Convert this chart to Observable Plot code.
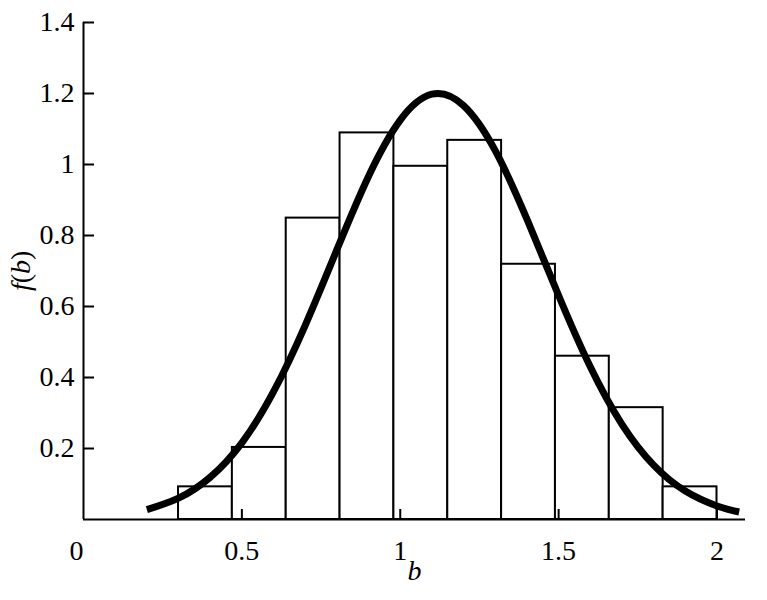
<!DOCTYPE html>
<html>
<head>
<meta charset="utf-8">
<script src="https://cdn.jsdelivr.net/npm/d3@7"></script>
<script src="https://cdn.jsdelivr.net/npm/@observablehq/plot@0.6"></script>
<style>
  html, body { margin: 0; padding: 0; background: #fff; }
  #chart { width: 767px; height: 600px; }
</style>
</head>
<body>
<div id="chart"></div>
<script>
// Histogram bins (edges) and heights
const binEdges = [0.30, 0.47, 0.64, 0.81, 0.98, 1.15, 1.32, 1.49, 1.66, 1.83, 2.00];
const binHeights = [0.092, 0.203, 0.849, 1.089, 0.995, 1.068, 0.719, 0.460, 0.315, 0.092];

// Fitted density curve
const curveX = [0.20, 0.30, 0.40, 0.50, 0.60, 0.70, 0.80, 0.90, 1.00, 1.10, 1.20, 1.30, 1.40, 1.50, 1.60, 1.70, 1.80, 1.90, 2.00, 2.07];
const curveY = [0.028, 0.060, 0.119, 0.216, 0.360, 0.547, 0.760, 0.967, 1.125, 1.198, 1.166, 1.039, 0.846, 0.631, 0.430, 0.268, 0.153, 0.080, 0.038, 0.021];

// Axis ticks
const xTicks = [0.5, 1, 1.5, 2];
const xZeroTick = [0];
const yTicks = [0.2, 0.4, 0.6, 0.8, 1, 1.2, 1.4];

const bins = binHeights.map((h, i) => ({x1: binEdges[i], x2: binEdges[i + 1], y: h}));
const curve = curveX.map((x, i) => ({x, y: curveY[i]}));

const FONT = "Liberation Serif";
const FS = 28;

const plot = Plot.plot({
  width: 767,
  height: 600,
  marginLeft: 83,
  marginRight: 22,
  marginTop: 22,
  marginBottom: 81,
  style: {fontFamily: FONT, fontSize: FS + "px", background: "#fff", color: "#000"},
  x: {domain: [0, 2.09], label: null},
  y: {domain: [0, 1.4], label: null},
  marks: [
    Plot.rectY(bins, {x1: "x1", x2: "x2", y: "y", fill: "#fff", stroke: "#000", strokeWidth: 2}),
    Plot.line(curve, {x: "x", y: "y", curve: "natural", stroke: "#000", strokeWidth: 7, strokeLinecap: "butt"}),
    Plot.ruleY([0], {stroke: "#000", strokeWidth: 2}),
    Plot.ruleX([0], {stroke: "#000", strokeWidth: 2}),
    Plot.axisX({ticks: xTicks, tickSize: -10, tickPadding: 31, strokeWidth: 2, fontSize: FS, fontFamily: FONT, tickFormat: d => String(d), label: null}),
    Plot.axisX({ticks: xZeroTick, tickSize: 0, tickPadding: 21, dx: -7, fontSize: FS, fontFamily: FONT, tickFormat: d => String(d), label: null}),
    Plot.axisY({ticks: yTicks, tickSize: -11, tickPadding: 20, strokeWidth: 2, fontSize: FS, fontFamily: FONT, tickFormat: d => String(d), label: null}),
    Plot.text(["b"], {frameAnchor: "bottom", dy: 60, fontStyle: "italic", fontSize: FS, fontFamily: FONT, text: d => d, fill: "#000"}),
    Plot.text(["f(b)"], {frameAnchor: "left", dx: -62, dy: 20, rotate: -90, fontSize: FS, fontFamily: FONT, text: d => d, fill: "#000", className: "ylab"})
  ]
});

document.getElementById("chart").appendChild(plot);

// Mixed italic for the y label: f and b italic, parentheses upright
const yl = plot.querySelector(".ylab text");
if (yl) {
  yl.textContent = "";
  const parts = [["f", "italic"], ["(", "normal"], ["b", "italic"], [")", "normal"]];
  for (const [t, s] of parts) {
    const ts = document.createElementNS("http://www.w3.org/2000/svg", "tspan");
    ts.setAttribute("font-style", s);
    ts.textContent = t;
    yl.appendChild(ts);
  }
}
</script>
</body>
</html>
